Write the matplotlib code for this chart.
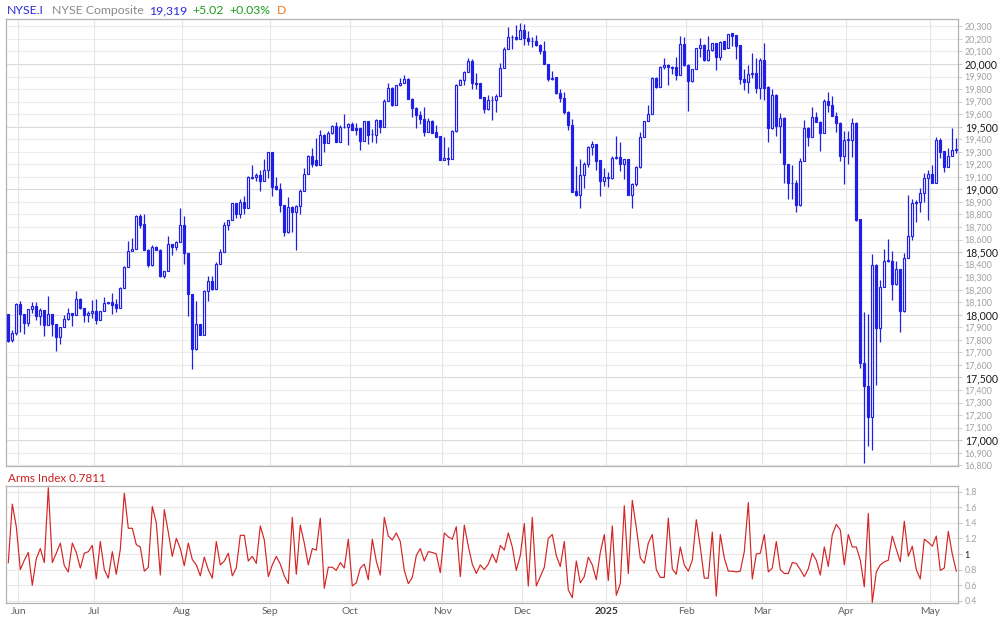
import numpy as np
import pandas as pd
import matplotlib
matplotlib.use("Agg")
import matplotlib.pyplot as plt

plt.rcParams['font.family'] = ['Lato', 'DejaVu Sans']

# trading days on the chart (NYSE holidays taken out)
holidays = ['2024-06-19', '2024-07-04', '2024-09-02', '2024-11-28', '2024-12-25',
            '2025-01-01', '2025-01-09', '2025-01-20', '2025-02-17', '2025-04-18']
days = pd.bdate_range('2024-05-29', '2025-05-09')
days = days[~days.isin(pd.to_datetime(holidays))]

# NYSE Composite daily candles
opens = [
    18005, 17795, 17851, 18085, 18005, 17933, 18045, 18069, 17989, 18037,
    17917, 18005, 17925, 17819, 17904, 17965, 18013, 17997, 18128, 18053,
    17997, 18013, 18029, 17957, 18029, 18093, 18101, 18085, 18053, 18213,
    18381, 18509, 18528, 18784, 18720, 18520, 18400, 18544, 18520, 18307,
    18349, 18565, 18539, 18584, 18712, 18493, 18165, 17725, 17925, 17837,
    18192, 18269, 18205, 18405, 18501, 18712, 18757, 18888, 18805, 18901,
    18852, 19100, 19100, 19116, 19065, 19151, 19295, 19023, 19004, 18876,
    18657, 18863, 18817, 18871, 18991, 19124, 19263, 19231, 19196, 19436,
    19369, 19447, 19508, 19380, 19497, 19500, 19519, 19487, 19487, 19385,
    19543, 19441, 19436, 19551, 19497, 19708, 19812, 19673, 19831, 19852,
    19884, 19724, 19652, 19593, 19564, 19457, 19548, 19460, 19423, 19236,
    19252, 19244, 19463, 19831, 19873, 19940, 20020, 19852, 19847, 19735,
    19639, 19716, 19713, 19747, 19968, 20123, 20216, 20216, 20200, 20275,
    20208, 20184, 20187, 20155, 20107, 20000, 19888, 19893, 19771, 19728,
    19621, 19515, 18987, 18952, 19112, 19200, 19336, 19360, 19235, 19069,
    19096, 19088, 19248, 19259, 19205, 19243, 18955, 19040, 19176, 19416,
    19544, 19600, 19891, 19819, 19973, 19995, 19979, 19973, 19915, 20160,
    19995, 19861, 19960, 20128, 20155, 20029, 20115, 20168, 20053, 20181,
    20128, 20244, 20231, 20151, 19884, 19857, 19924, 19929, 19812, 20031,
    19820, 19487, 19756, 19505, 19572, 19204, 19049, 19052, 18873, 19228,
    19492, 19417, 19580, 19540, 19449, 19708, 19676, 19588, 19532, 19265,
    19396, 19396, 19532, 18765, 17619, 17435, 17187, 18400, 17891, 18221,
    18432, 18432, 18243, 18365, 18027, 18453, 18627, 18900, 18897, 18972,
    19092, 19119, 19052, 19391, 19305, 19177, 19265, 19316,
]
highs = [
    18010, 17880, 18090, 18112, 18010, 18048, 18104, 18104, 18053, 18040,
    18149, 18008, 17928, 17904, 18000, 18053, 18016, 18192, 18130, 18055,
    18032, 18120, 18128, 18032, 18144, 18104, 18176, 18128, 18221, 18389,
    18592, 18616, 18792, 18800, 18800, 18522, 18557, 18552, 18522, 18349,
    18632, 18567, 18590, 18848, 18787, 18495, 18167, 18112, 17927, 18195,
    18312, 18307, 18419, 18528, 18739, 18757, 18890, 18890, 18920, 18951,
    19105, 19191, 19132, 19151, 19239, 19300, 19297, 19097, 19049, 18878,
    18937, 18865, 18873, 19004, 19167, 19271, 19332, 19407, 19471, 19438,
    19463, 19516, 19535, 19516, 19599, 19532, 19537, 19532, 19489, 19543,
    19545, 19481, 19564, 19553, 19719, 19847, 19814, 19836, 19892, 19911,
    19886, 19726, 19654, 19625, 19660, 19572, 19550, 19511, 19425, 19420,
    19340, 19471, 19844, 19884, 19942, 20045, 20040, 19932, 19849, 19737,
    19752, 19741, 19760, 20008, 20136, 20296, 20229, 20307, 20328, 20315,
    20267, 20216, 20235, 20157, 20181, 20002, 19947, 19895, 19803, 19773,
    19623, 19563, 19187, 19243, 19219, 19349, 19387, 19362, 19237, 19171,
    19141, 19269, 19427, 19379, 19242, 19245, 19048, 19189, 19461, 19546,
    19675, 19899, 19893, 19981, 20045, 19997, 19981, 20056, 20221, 20216,
    19997, 19962, 20130, 20208, 20157, 20227, 20170, 20170, 20187, 20183,
    20242, 20246, 20233, 20153, 19959, 19993, 20087, 20047, 20047, 20167,
    19822, 19799, 19758, 19612, 19574, 19206, 19193, 19071, 19247, 19551,
    19494, 19660, 19620, 19542, 19724, 19775, 19743, 19620, 19534, 19465,
    19465, 19567, 19534, 18767, 18021, 18005, 18488, 18402, 18280, 18528,
    18608, 18507, 18432, 18367, 18493, 18952, 18920, 18912, 19012, 19132,
    19153, 19191, 19420, 19412, 19307, 19332, 19492, 19409,
]
lows = [
    17785, 17779, 17840, 17859, 17843, 17907, 18013, 17960, 17915, 17827,
    17915, 17827, 17714, 17763, 17900, 17962, 17907, 17995, 18049, 17939,
    17939, 17973, 17928, 17955, 18027, 18085, 18003, 18019, 18051, 18211,
    18379, 18507, 18526, 18691, 18513, 18381, 18387, 18515, 18301, 18291,
    18347, 18477, 18520, 18582, 18403, 17987, 17565, 17723, 17835, 17835,
    18112, 18201, 18203, 18403, 18499, 18675, 18755, 18771, 18771, 18806,
    18850, 19085, 19068, 18985, 19063, 19092, 18951, 18999, 18817, 18631,
    18655, 18657, 18513, 18804, 18989, 19122, 19180, 19189, 19194, 19297,
    19367, 19445, 19375, 19378, 19487, 19353, 19471, 19436, 19313, 19383,
    19359, 19375, 19372, 19452, 19495, 19706, 19665, 19671, 19826, 19850,
    19722, 19580, 19487, 19519, 19425, 19455, 19450, 19415, 19234, 19234,
    19191, 19242, 19461, 19829, 19831, 19938, 19799, 19799, 19725, 19612,
    19630, 19555, 19621, 19745, 19966, 20121, 20120, 20189, 20198, 20149,
    20149, 20136, 20147, 20080, 19998, 19861, 19869, 19763, 19693, 19603,
    19475, 18979, 18950, 18853, 19008, 19181, 19275, 19152, 18947, 19029,
    19021, 19086, 19246, 19149, 19080, 18953, 18853, 19029, 19174, 19414,
    19542, 19598, 19808, 19817, 19960, 19829, 19920, 19875, 19913, 19981,
    19629, 19859, 19958, 20053, 20027, 20027, 20100, 19949, 20035, 20121,
    20126, 20145, 20039, 19844, 19793, 19772, 19887, 19772, 19724, 19711,
    19377, 19485, 19425, 19292, 19049, 18927, 18927, 18820, 18871, 19226,
    19345, 19415, 19535, 19305, 19447, 19617, 19583, 19455, 19225, 19044,
    19199, 19260, 18751, 17578, 16818, 16955, 16925, 17440, 17779, 18219,
    18421, 18120, 18241, 17859, 18025, 18451, 18595, 18739, 18817, 18897,
    18753, 19050, 19050, 19252, 19137, 19175, 19263, 19292,
]
closes = [
    17792, 17853, 18085, 18005, 17931, 18045, 18069, 17989, 18037, 17917,
    18005, 17925, 17819, 17904, 17965, 18013, 17997, 18125, 18051, 17997,
    18013, 18029, 17957, 18029, 18093, 18099, 18080, 18053, 18216, 18381,
    18509, 18528, 18784, 18715, 18515, 18400, 18544, 18517, 18307, 18349,
    18565, 18539, 18584, 18712, 18493, 18165, 17725, 17925, 17837, 18192,
    18269, 18203, 18405, 18501, 18712, 18757, 18888, 18805, 18901, 18853,
    19097, 19089, 19116, 19065, 19151, 19295, 19017, 19001, 18873, 18657,
    18863, 18817, 18871, 18991, 19124, 19263, 19201, 19191, 19436, 19369,
    19447, 19508, 19380, 19500, 19500, 19519, 19473, 19476, 19385, 19543,
    19436, 19439, 19551, 19497, 19708, 19812, 19673, 19831, 19852, 19884,
    19724, 19652, 19593, 19564, 19457, 19548, 19452, 19417, 19236, 19252,
    19244, 19463, 19831, 19873, 19940, 20020, 19852, 19844, 19727, 19639,
    19716, 19713, 19747, 19968, 20123, 20216, 20219, 20200, 20275, 20208,
    20181, 20187, 20149, 20101, 20000, 19880, 19880, 19765, 19728, 19621,
    19515, 18981, 18952, 19112, 19200, 19336, 19360, 19229, 19069, 19096,
    19090, 19248, 19259, 19205, 19240, 18955, 19040, 19176, 19416, 19544,
    19600, 19891, 19819, 19979, 19995, 19973, 19968, 19915, 20160, 19995,
    19861, 19960, 20128, 20155, 20029, 20115, 20168, 20053, 20176, 20123,
    20240, 20225, 20145, 19879, 19857, 19924, 19929, 19807, 20031, 19812,
    19487, 19756, 19505, 19572, 19199, 19049, 19052, 18873, 19228, 19492,
    19417, 19580, 19537, 19449, 19708, 19673, 19585, 19529, 19265, 19396,
    19399, 19532, 18759, 17619, 17435, 17187, 18400, 17891, 18221, 18432,
    18435, 18243, 18365, 18027, 18453, 18627, 18893, 18893, 18972, 19092,
    19119, 19052, 19391, 19300, 19177, 19265, 19314, 19319,
]

# Arms Index (TRIN)
arms = [
    0.89, 1.64, 1.35, 0.80, 0.92, 1.02, 0.60, 0.94, 1.07, 0.89,
    1.85, 0.89, 1.01, 1.14, 0.85, 0.77, 1.14, 1.02, 0.82, 1.01,
    1.03, 1.11, 0.68, 1.16, 0.80, 0.69, 1.03, 0.74, 1.06, 1.78,
    1.33, 1.33, 1.12, 1.09, 0.78, 0.83, 1.61, 1.40, 0.73, 1.57,
    1.28, 0.97, 1.20, 1.07, 0.85, 1.14, 0.93, 0.86, 0.72, 0.96,
    0.80, 0.69, 1.16, 0.86, 0.91, 1.01, 0.72, 0.82, 1.24, 1.24,
    0.91, 0.97, 0.88, 1.36, 1.18, 0.71, 0.86, 0.97, 0.87, 0.72,
    0.62, 1.47, 0.74, 1.37, 1.14, 0.86, 1.07, 1.05, 1.46, 0.56,
    0.83, 0.83, 0.79, 0.89, 0.82, 1.19, 0.59, 0.63, 0.82, 0.87,
    0.67, 1.19, 0.91, 0.73, 1.47, 1.23, 1.18, 1.27, 1.16, 0.79,
    0.62, 0.70, 0.98, 1.07, 0.91, 1.03, 1.02, 1.00, 0.76, 1.27,
    1.22, 1.19, 1.35, 0.71, 1.37, 1.10, 0.87, 0.75, 0.86, 0.80,
    0.87, 1.00, 0.89, 1.11, 1.05, 1.27, 1.09, 0.79, 0.98, 1.39,
    0.59, 1.47, 0.59, 0.71, 0.83, 1.20, 1.25, 0.98, 0.84, 1.16,
    0.54, 0.44, 0.91, 0.63, 0.71, 0.96, 0.86, 0.67, 1.02, 1.25,
    0.66, 1.36, 0.47, 0.62, 1.62, 0.75, 1.69, 1.34, 0.95, 0.88,
    1.14, 1.25, 0.80, 0.70, 0.70, 1.46, 0.81, 0.74, 1.09, 0.86,
    0.78, 0.92, 1.44, 1.09, 0.69, 0.69, 1.28, 0.46, 1.25, 0.95,
    0.78, 0.78, 0.77, 0.78, 1.03, 1.66, 0.68, 1.00, 1.01, 1.25,
    0.77, 0.82, 1.16, 0.80, 0.75, 0.75, 0.89, 0.88, 0.80, 0.71,
    0.81, 1.01, 0.92, 0.73, 1.09, 0.84, 1.25, 1.38, 1.31, 0.86,
    1.25, 1.09, 1.09, 0.92, 0.58, 1.52, 0.38, 0.77, 0.86, 0.90,
    0.92, 1.23, 1.06, 0.90, 1.42, 0.97, 1.10, 0.80, 0.68, 1.19,
    1.15, 1.10, 1.23, 0.79, 0.82, 1.29, 1.00, 0.78,
]

blue = '#1f1fe6'
red = '#d42424'
border = '#b4b4b4'

x = np.arange(len(days))
o, h, l, c = (np.array(v, dtype=float) for v in (opens, highs, lows, closes))
up = c >= o

# month boundaries -> grid lines and labels
month_first = [i for i in range(1, len(days)) if days[i].month != days[i - 1].month]
month_pos = [i - 0.5 for i in month_first]
month_labels = ['2025' if days[i].month == 1 else days[i].strftime('%b') for i in month_first]

fig = plt.figure(figsize=(10, 6.22), dpi=100)
ax = fig.add_axes([0.0055, 0.2508, 0.953, 0.7187])
ax2 = fig.add_axes([0.0055, 0.0301, 0.953, 0.1890])

# ---- price panel ----
ax.vlines(x, l, h, color=blue, lw=0.9, zorder=3)
ax.bar(x[up], (c - o)[up], bottom=o[up], width=0.55, facecolor='white',
       edgecolor=blue, lw=0.85, zorder=4)
ax.bar(x[~up], (o - c)[~up], bottom=c[~up], width=0.55, facecolor=blue,
       edgecolor=blue, lw=0.85, zorder=4)

ax.set_xlim(-0.7, 237.55)
ax.set_ylim(16794, 20359)

major = np.arange(17000, 20001, 500)
minor = [v for v in range(16800, 20301, 100) if v % 500 != 0]
for v in minor:
    ax.axhline(v, color='#ececec', lw=0.8, zorder=0)
for v in major:
    ax.axhline(v, color='#dadada', lw=0.8, zorder=0)
for p in month_pos:
    ax.axvline(p, color='#e6e6e6', lw=0.8, zorder=0)
    ax2.axvline(p, color='#e6e6e6', lw=0.8, zorder=0)

ax.yaxis.tick_right()
ax.set_yticks(major)
ax.set_yticklabels([f'{v:,}' for v in major], fontsize=7.6, color='#1a1a1a')
ax.set_yticks(minor, minor=True)
ax.set_yticklabels([f'{v:,}' for v in minor], minor=True, fontsize=6.4, color='#a0a0a0')
ax.tick_params(axis='y', which='both', length=3, color='#c8c8c8', pad=1.5)
ax.set_xticks([])

# ---- Arms Index panel ----
ax2.plot(x, arms, color=red, lw=0.85, zorder=3)
ax2.set_xlim(-0.7, 237.55)
ax2.set_ylim(0.368, 1.876)
arms_ticks = [0.4, 0.6, 0.8, 1.0, 1.2, 1.4, 1.6, 1.8]
for v in arms_ticks:
    ax2.axhline(v, color='#e8e8e8', lw=0.8, zorder=0)
ax2.yaxis.tick_right()
ax2.set_yticks(arms_ticks)
ax2.set_yticklabels(['1' if v == 1.0 else f'{v:g}' for v in arms_ticks], fontsize=6.4)
for t, v in zip(ax2.get_yticklabels(), arms_ticks):
    t.set_color('#1a1a1a' if v == 1.0 else '#a0a0a0')
ax2.tick_params(axis='y', length=3, color='#c8c8c8', pad=1.5)

ax2.set_xticks(month_pos)
ax2.set_xticklabels(month_labels, fontsize=7.4, color='#606060')
ax2.tick_params(axis='x', length=0, pad=3)
for t in ax2.get_xticklabels():
    if t.get_text() == '2025':
        t.set_fontweight('bold')
        t.set_color('#333333')

for a in (ax, ax2):
    for s in a.spines.values():
        s.set_color(border)
        s.set_linewidth(0.9)

# ---- header texts ----
def px(xp, yp):
    return xp / 1000, 1 - yp / 622

hy = 10.5
for xp, txt, col in [(7, 'NYSE.I', '#2a2ae0'), (52, 'NYSE Composite', '#8a8a8a'),
                     (149, '19,319', '#2a2ae0'), (192, '+5.02', '#1c9e1c'),
                     (229, '+0.03%', '#1c9e1c'), (277, 'D', '#f07820')]:
    fig.text(*px(xp, hy), txt, color=col, fontsize=8.8, ha='left', va='center')

fig.text(*px(7.5, 479), 'Arms Index 0.7811', color='#cc1f1f', fontsize=8.4,
         ha='left', va='center')

fig.savefig('out.png', dpi=100)
